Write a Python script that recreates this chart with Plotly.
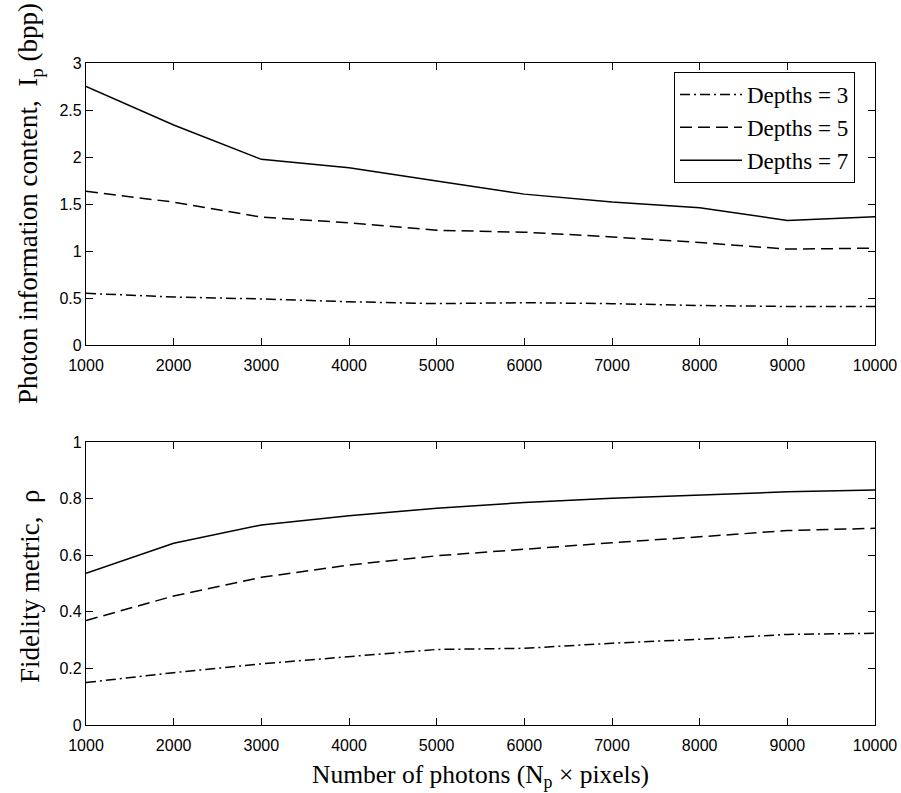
import plotly.graph_objects as go

photons = [1000, 2000, 3000, 4000, 5000, 6000, 7000, 8000, 9000, 10000]

# Photon information content I_p (bpp)
info_d3 = [0.55, 0.51, 0.49, 0.46, 0.44, 0.45, 0.44, 0.42, 0.41, 0.41]
info_d5 = [1.635, 1.52, 1.36, 1.30, 1.22, 1.20, 1.15, 1.09, 1.02, 1.03]
info_d7 = [2.75, 2.34, 1.975, 1.885, 1.745, 1.605, 1.52, 1.46, 1.325, 1.365]

# Fidelity metric rho
fid_d3 = [0.15, 0.185, 0.216, 0.241, 0.267, 0.271, 0.289, 0.303, 0.320, 0.324]
fid_d5 = [0.369, 0.456, 0.522, 0.565, 0.598, 0.622, 0.644, 0.665, 0.687, 0.695]
fid_d7 = [0.536, 0.642, 0.707, 0.739, 0.766, 0.786, 0.801, 0.812, 0.824, 0.830]

series_names = ["Depths = 3", "Depths = 5", "Depths = 7"]
x_ticks = [1000, 2000, 3000, 4000, 5000, 6000, 7000, 8000, 9000, 10000]
y1_ticks = [0, 0.5, 1, 1.5, 2, 2.5, 3]
y1_labels = ["0", "0.5", "1", "1.5", "2", "2.5", "3"]
y2_ticks = [0, 0.2, 0.4, 0.6, 0.8, 1]
y2_labels = ["0", "0.2", "0.4", "0.6", "0.8", "1"]

dashes = ["10px,4px,2px,4px", "12px,6px", "solid"]
W, H = 901, 793

fig = go.Figure()
for vals, name, d in zip([info_d3, info_d5, info_d7], series_names, dashes):
    fig.add_trace(go.Scatter(x=photons, y=vals, mode="lines", name=name,
                             line=dict(color="black", width=1.5, dash=d),
                             xaxis="x", yaxis="y"))
for vals, name, d in zip([fid_d3, fid_d5, fid_d7], series_names, dashes):
    fig.add_trace(go.Scatter(x=photons, y=vals, mode="lines", name=name,
                             showlegend=False,
                             line=dict(color="black", width=1.5, dash=d),
                             xaxis="x2", yaxis="y2"))

tickfont = dict(family="Liberation Sans, Arial, sans-serif", size=16, color="black")
common_x = dict(range=[1000, 10000], tickvals=x_ticks, ticktext=[str(t) for t in x_ticks],
                ticks="inside", ticklen=7, tickwidth=1, tickcolor="black",
                showline=True, linecolor="black", linewidth=1.3, mirror="ticks",
                showgrid=False, zeroline=False, tickfont=tickfont, automargin=False,
                ticklabelstandoff=6, domain=[86 / W, 875 / W])
common_y = dict(ticks="inside", ticklen=7, tickwidth=1, tickcolor="black",
                showline=True, linecolor="black", linewidth=1.3, mirror="ticks",
                showgrid=False, zeroline=False, tickfont=tickfont, automargin=False)

fig.update_layout(
    width=W, height=H,
    margin=dict(l=0, r=0, t=0, b=0, pad=0, autoexpand=False),
    paper_bgcolor="white", plot_bgcolor="white",
    xaxis=dict(**common_x, anchor="y"),
    yaxis=dict(**common_y, range=[0, 3], tickvals=y1_ticks, ticktext=y1_labels,
               domain=[1 - 345 / H, 1 - 63 / H], anchor="x"),
    xaxis2=dict(**common_x, anchor="y2"),
    yaxis2=dict(**common_y, range=[0, 1], tickvals=y2_ticks, ticktext=y2_labels,
                domain=[1 - 725 / H, 1 - 442 / H], anchor="x2"),
    legend=dict(x=674 / W, y=1 - 72 / H, xanchor="left", yanchor="top",
                bgcolor="white", bordercolor="black", borderwidth=1,
                font=dict(family="Liberation Serif, Times New Roman, serif", size=23, color="black"),
                itemwidth=62, tracegroupgap=0),
    showlegend=True,
)

title_font_y = dict(family="Liberation Serif, Times New Roman, serif", size=27, color="black")
title_font_x = dict(family="Liberation Serif, Times New Roman, serif", size=25.5, color="black")
fig.add_annotation(text="Photon information content,  I<sub>p</sub> (bpp)",
                   xref="paper", yref="paper", x=30 / W, y=1 - 204 / H,
                   textangle=-90, showarrow=False, font=title_font_y,
                   xanchor="center", yanchor="middle")
fig.add_annotation(text="Fidelity metric,  ρ",
                   xref="paper", yref="paper", x=30 / W, y=1 - 587 / H,
                   textangle=-90, showarrow=False, font=title_font_y,
                   xanchor="center", yanchor="middle")
fig.add_annotation(text="Number of photons (N<sub>p</sub> × pixels)",
                   xref="paper", yref="paper", x=480 / W, y=1 - 776 / H,
                   showarrow=False, font=title_font_x,
                   xanchor="center", yanchor="middle")

fig.write_html("out.html")
